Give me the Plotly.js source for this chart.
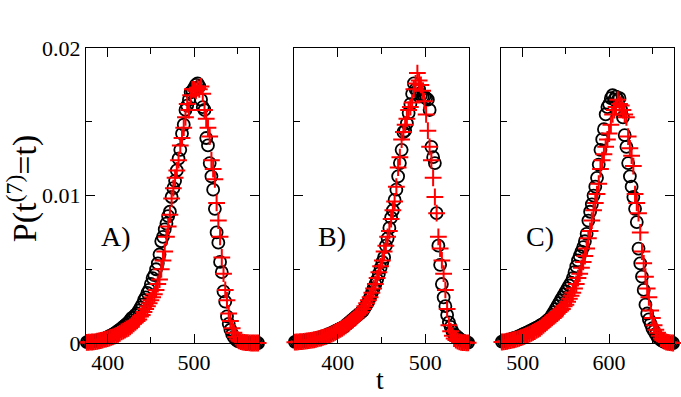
<!DOCTYPE html>
<html>
<head>
<meta charset="utf-8">
<script src="https://cdn.plot.ly/plotly-3.0.1.min.js"></script>
<style>
  body { margin: 0; background: #fff; }
  #chart { width: 681px; height: 397px; }
</style>
</head>
<body>
<div id="chart"></div>
<script>
// t grids start at these values, one point every 2 steps (100 points each)
var startA = 376, startB = 351, startC = 476;
var stepT = 2;

// Panel A) circles (black) and pluses (red)
var circlesA = [
  0.00006, 0.00007, 0.00009, 0.0001, 0.00012, 0.00014, 0.00016, 0.00019, 0.00022, 0.00026,
  0.0003, 0.00035, 0.0004, 0.00046, 0.00052, 0.00058, 0.00066, 0.00074, 0.00082, 0.0009,
  0.001, 0.0011, 0.0012, 0.0013, 0.0014, 0.00155, 0.0017, 0.00175, 0.0019, 0.002,
  0.0022, 0.0024, 0.0026, 0.0029, 0.0031, 0.0034, 0.0036, 0.004, 0.0044, 0.0046,
  0.005, 0.0054, 0.006, 0.0069, 0.0072, 0.0077, 0.0081, 0.0086, 0.0089, 0.0099,
  0.0105, 0.011, 0.0117, 0.0125, 0.0131, 0.0142, 0.0148, 0.0158, 0.0161, 0.0165,
  0.017, 0.0171, 0.0173, 0.0175, 0.0176, 0.0174, 0.0165, 0.016, 0.0158, 0.0139,
  0.0134, 0.0122, 0.0113, 0.0104, 0.0091, 0.0075, 0.0068, 0.0055, 0.0048, 0.0035,
  0.0028, 0.0018, 0.0013, 0.0009, 0.0006, 0.0004, 0.00025, 0.00015, 0.0001, 0.00006,
  0.00004, 0.00003, 0.00002, 0.00001, 0, 0, 0, 0, 0, 0
];
var plusesA = [
  0.00004, 0.00005, 0.00006, 0.00007, 0.00008, 0.0001, 0.00012, 0.00014, 0.00017, 0.0002,
  0.00024, 0.00027, 0.0003, 0.00034, 0.00038, 0.00042, 0.00047, 0.00052, 0.00058, 0.00065,
  0.00075, 0.0008, 0.00088, 0.00095, 0.001, 0.0011, 0.0012, 0.0013, 0.0014, 0.0015,
  0.0016, 0.0018, 0.0019, 0.0021, 0.0023, 0.0025, 0.0027, 0.0029, 0.0031, 0.0033,
  0.0036, 0.004, 0.0043, 0.005, 0.0056, 0.0062, 0.0072, 0.0079, 0.0087, 0.0098,
  0.0105, 0.0112, 0.0117, 0.0124, 0.0134, 0.0139, 0.0146, 0.0153, 0.0162, 0.0158,
  0.0168, 0.0172, 0.0172, 0.0171, 0.0173, 0.0172, 0.0174, 0.0169, 0.0158, 0.0152,
  0.0146, 0.014, 0.0124, 0.0118, 0.0111, 0.0095, 0.0083, 0.0072, 0.0058, 0.0047,
  0.0036, 0.0029, 0.002, 0.0015, 0.001, 0.0007, 0.0004, 0.00025, 0.00015, 0.0001,
  0.00006, 0.00004, 0.00003, 0.00002, 0.00001, 0, 0, 0, 0, 0
];

// Panel B)
var circlesB = [
  0.00008, 0.00009, 0.0001, 0.00011, 0.00012, 0.00014, 0.00015, 0.00017, 0.00019, 0.00021,
  0.00023, 0.00026, 0.00029, 0.00032, 0.00036, 0.0004, 0.00044, 0.00048, 0.00053, 0.00058,
  0.00063, 0.00068, 0.00074, 0.0008, 0.00086, 0.00092, 0.00098, 0.00104, 0.0011, 0.0012,
  0.0013, 0.0014, 0.0015, 0.0016, 0.0017, 0.0018, 0.0019, 0.002, 0.0021, 0.0022,
  0.0024, 0.0026, 0.0028, 0.0031, 0.0034, 0.0037, 0.004, 0.0043, 0.0047, 0.0051,
  0.0055, 0.0058, 0.0066, 0.0071, 0.0078, 0.0085, 0.009, 0.0097, 0.0104, 0.0113,
  0.0122, 0.0131, 0.0143, 0.0144, 0.0149, 0.0156, 0.0162, 0.0169, 0.0176, 0.0172,
  0.0171, 0.0172, 0.0168, 0.0167, 0.0167, 0.0166, 0.0165, 0.0158, 0.0133, 0.0126,
  0.0122, 0.0088, 0.0066, 0.0053, 0.004, 0.0031, 0.0025, 0.0019, 0.0014, 0.0011,
  0.0008, 0.0006, 0.0005, 0.0004, 0.0003, 0.0002, 0.00014, 0.00009, 0.00005, 0.00003
];
var plusesB = [
  0.00006, 0.00007, 0.00008, 0.00009, 0.0001, 0.00011, 0.00013, 0.00014, 0.00016, 0.00018,
  0.0002, 0.00022, 0.00025, 0.00028, 0.00031, 0.00034, 0.00038, 0.00042, 0.00046, 0.0005,
  0.00055, 0.0006, 0.00066, 0.00072, 0.00078, 0.00085, 0.00092, 0.001, 0.00108, 0.00116,
  0.00125, 0.00135, 0.00145, 0.00155, 0.00165, 0.00175, 0.0019, 0.002, 0.0021, 0.0023,
  0.0025, 0.0027, 0.0029, 0.0031, 0.0034, 0.0037, 0.004, 0.0044, 0.0048, 0.0052,
  0.0056, 0.0062, 0.0066, 0.0072, 0.0076, 0.0084, 0.009, 0.0096, 0.0106, 0.0119,
  0.0126, 0.0138, 0.0143, 0.0148, 0.0152, 0.0158, 0.016, 0.0163, 0.0172, 0.0176,
  0.0183, 0.0178, 0.0175, 0.0171, 0.0164, 0.0155, 0.0144, 0.0133, 0.0124, 0.0112,
  0.0099, 0.0088, 0.0072, 0.0064, 0.0056, 0.0047, 0.0036, 0.0023, 0.0012, 0.0008,
  0.0005, 0.0003, 0.0002, 0.00013, 0.00008, 0.00005, 0.00003, 0.00002, 0.00001, 0.00001
];

// Panel C)
var circlesC = [
  0.0001, 0.00012, 0.00015, 0.00018, 0.00021, 0.00025, 0.00029, 0.00033, 0.00037, 0.00042,
  0.00047, 0.00052, 0.00058, 0.00063, 0.00068, 0.00074, 0.0008, 0.00086, 0.00092, 0.00098,
  0.00104, 0.0011, 0.00117, 0.00124, 0.0013, 0.0014, 0.0015, 0.0016, 0.0017, 0.0019,
  0.0021, 0.0023, 0.0025, 0.0027, 0.0029, 0.0031, 0.0033, 0.0035, 0.0037, 0.0039,
  0.0041, 0.0044, 0.0048, 0.0052, 0.0056, 0.0059, 0.0062, 0.0065, 0.0069, 0.0074,
  0.0083, 0.0089, 0.0094, 0.01, 0.0106, 0.0112, 0.0121, 0.0131, 0.0138, 0.0145,
  0.0155, 0.016, 0.0162, 0.0166, 0.0168, 0.0165, 0.0167, 0.0165, 0.0166, 0.0158,
  0.0153, 0.0141, 0.0133, 0.0122, 0.0113, 0.0106, 0.0099, 0.0091, 0.0082, 0.0064,
  0.0054, 0.0045, 0.0036, 0.0026, 0.002, 0.0016, 0.0013, 0.001, 0.0008, 0.0006,
  0.0004, 0.0003, 0.0002, 0.00012, 0.00007, 0.00004, 0.00002, 0.00001, 0, 0
];
var plusesC = [
  0.00007, 0.00008, 0.0001, 0.00012, 0.00014, 0.00016, 0.00019, 0.00022, 0.00025, 0.00028,
  0.00032, 0.00036, 0.0004, 0.00045, 0.0005, 0.00055, 0.0006, 0.00066, 0.00072, 0.00078,
  0.00085, 0.00092, 0.001, 0.0011, 0.0012, 0.0013, 0.0014, 0.0015, 0.0016, 0.0017,
  0.0018, 0.0019, 0.002, 0.0021, 0.0022, 0.0023, 0.0025, 0.0026, 0.0028, 0.003,
  0.0032, 0.0034, 0.0037, 0.004, 0.0044, 0.0047, 0.0051, 0.0055, 0.0059, 0.0064,
  0.0071, 0.0076, 0.0083, 0.009, 0.0095, 0.0101, 0.0108, 0.0118, 0.0124, 0.0128,
  0.0133, 0.0138, 0.0142, 0.0148, 0.0155, 0.0158, 0.016, 0.0165, 0.0162, 0.0161,
  0.0158, 0.0155, 0.0153, 0.014, 0.0132, 0.0127, 0.012, 0.0101, 0.0095, 0.0088,
  0.0075, 0.0062, 0.0054, 0.0045, 0.0037, 0.0031, 0.0022, 0.0017, 0.0012, 0.0009,
  0.0007, 0.0005, 0.0003, 0.0002, 0.00012, 0.00007, 0.00004, 0.00002, 0.00001, 0
];

var panelLabels = ["A)", "B)", "C)"];
var xRanges = [[375, 575], [350, 550], [475, 675]];

function tGrid(start, n) {
  var t = [];
  for (var i = 0; i < n; i++) {
    t.push(start + i * stepT);
  }
  return t;
}

function circleTrace(t, y, axis) {
  return {
    x: t, y: y, xaxis: 'x' + axis, yaxis: 'y' + axis,
    type: 'scatter', mode: 'markers', cliponaxis: false,
    marker: {symbol: 'circle-open', size: 12, color: 'black', line: {color: 'black', width: 1.8}}
  };
}

function plusTrace(t, y, axis) {
  return {
    x: t, y: y, xaxis: 'x' + axis, yaxis: 'y' + axis,
    type: 'scatter', mode: 'markers', cliponaxis: false,
    marker: {symbol: 'cross-thin', size: 12, color: 'red', line: {color: 'red', width: 2}}
  };
}

var data = [
  circleTrace(tGrid(startA, circlesA.length), circlesA, ''),
  plusTrace(tGrid(startA, plusesA.length), plusesA, ''),
  circleTrace(tGrid(startB, circlesB.length), circlesB, '2'),
  plusTrace(tGrid(startB, plusesB.length), plusesB, '2'),
  circleTrace(tGrid(startC, circlesC.length), circlesC, '3'),
  plusTrace(tGrid(startC, plusesC.length), plusesC, '3')
];

var serif = '"Liberation Serif", "Times New Roman", serif';
var tickFont = {family: serif, size: 22, color: 'black'};

function xAxis(range, domain, anchor) {
  return {
    range: range, domain: domain, anchor: anchor,
    showline: true, linecolor: 'black', linewidth: 1, mirror: 'ticks',
    ticks: 'inside', ticklen: 9, tickwidth: 1, tickcolor: 'black',
    dtick: 100, tick0: 0, showgrid: false, zeroline: false,
    tickfont: tickFont,
    minor: {ticks: 'inside', ticklen: 6, dtick: 50, tick0: 0, tickcolor: 'black', showgrid: false}
  };
}

function yAxis(domain, anchor, labels) {
  return {
    range: [0, 0.02], domain: domain, anchor: anchor,
    showline: true, linecolor: 'black', linewidth: 1, mirror: 'ticks',
    ticks: 'inside', ticklen: 9, tickwidth: 1, tickcolor: 'black',
    dtick: 0.01, tick0: 0, showgrid: false, zeroline: false,
    showticklabels: labels, tickfont: tickFont,
    minor: {ticks: 'inside', ticklen: 6, dtick: 0.005, tick0: 0, tickcolor: 'black', showgrid: false}
  };
}

var yDomain = [0.136, 0.879];

function label(text, x, y, size, angle) {
  return {
    text: text, xref: 'paper', yref: 'paper', x: x, y: y,
    xanchor: 'center', yanchor: 'middle', showarrow: false,
    textangle: angle || 0, font: {family: serif, size: size, color: 'black'}
  };
}

var layout = {
  width: 681, height: 397,
  margin: {l: 0, r: 0, t: 0, b: 0},
  paper_bgcolor: 'white', plot_bgcolor: 'white',
  showlegend: false,
  font: {family: serif, color: 'black'},
  xaxis: xAxis(xRanges[0], [0.1263, 0.3803], 'y'),
  yaxis: yAxis(yDomain, 'x', true),
  xaxis2: xAxis(xRanges[1], [0.4317, 0.6887], 'y2'),
  yaxis2: yAxis(yDomain, 'x2', false),
  xaxis3: xAxis(xRanges[2], [0.7357, 0.9897], 'y3'),
  yaxis3: yAxis(yDomain, 'x3', false),
  annotations: [
    label(panelLabels[0], 0.1703, 0.4055, 28),
    label(panelLabels[1], 0.4875, 0.4055, 28),
    label(panelLabels[2], 0.793, 0.4055, 28),
    label('P(t<sup>(7)</sup>=t)', 0.034, 0.524, 34, -90),
    label('t', 0.558, 0.045, 28)
  ]
};

Plotly.newPlot('chart', data, layout, {staticPlot: true});
</script>
</body>
</html>
